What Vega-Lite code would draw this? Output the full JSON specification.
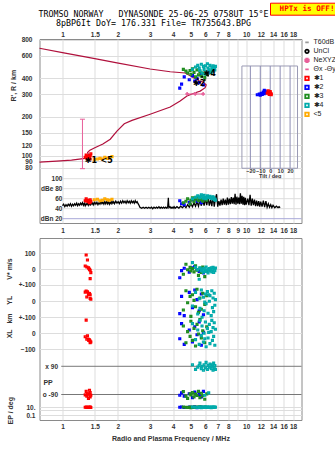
{
"$schema": "https://vega.github.io/schema/vega-lite/v6.json",
"background": "white",
"padding": {"left": 4.5, "top": 2, "right": 0, "bottom": 0},
"config": {
 "view": {"stroke": "#8a8a8a"},
 "axis": {"labelFont": "Liberation Sans", "labelFontSize": 6.5, "labelFontWeight": "bold", "labelColor": "#333333", "titleFont": "Liberation Sans", "titleFontSize": 7, "titleFontWeight": "bold", "titleColor": "#333333", "gridColor": "#dddddd", "domain": false, "ticks": false, "tickSize": 0, "labelOverlap": false, "labelFlush": false, "labelBound": false},
 "legend": {"labelFont": "Liberation Sans"}
},
"datasets": {
 "echo": [
  {"f":1.346,"t":"✱1","h":101,"db":60,"v":88,"yl":64,"xl":82,"pp":-70,"ep":10},
  {"f":1.368,"t":"✱1","h":99,"db":57,"v":57,"yl":59,"xl":-17,"pp":-85,"ep":9},
  {"f":1.33,"t":"✱1","h":97,"db":56,"v":19,"yl":57,"xl":-22,"pp":-92,"ep":10},
  {"f":1.357,"t":"✱1","h":96,"db":55,"v":13,"yl":26,"xl":-38,"pp":-100,"ep":11},
  {"f":1.385,"t":"✱1","h":95,"db":54,"v":8,"yl":43,"xl":-38,"pp":-115,"ep":9},
  {"f":1.403,"t":"✱1","h":98,"db":52,"v":-2,"yl":47,"xl":-42,"pp":-63,"ep":10},
  {"f":1.415,"t":"✱1","h":100,"db":53,"v":-8,"yl":18,"xl":-49,"pp":-78,"ep":12},
  {"f":1.427,"t":"✱1","h":103,"db":55,"v":-23,"yl":12,"xl":-55,"pp":-95,"ep":9},
  {"f":1.415,"t":"✱1","h":94,"db":58,"v":-61,"yl":40,"xl":-59,"pp":-105,"ep":10},
  {"f":1.39,"t":"✱1","h":96,"db":56,"v":5,"yl":50,"xl":-45,"pp":-88,"ep":10},
  {"f":1.49,"t":"<5","h":93,"db":58},
  {"f":1.55,"t":"<5","h":94,"db":59},
  {"f":1.6,"t":"<5","h":95,"db":56},
  {"f":1.65,"t":"<5","h":94,"db":57},
  {"f":1.7,"t":"<5","h":97,"db":60},
  {"f":1.75,"t":"<5","h":95,"db":58},
  {"f":1.8,"t":"<5","h":96,"db":57},
  {"f":1.86,"t":"<5","h":98,"db":59},
  {"f":4.35,"t":"✱2","h":335,"db":56,"v":-55,"yl":-78,"xl":-35,"pp":-95,"ep":10},
  {"f":4.45,"t":"✱2","h":360,"db":50,"v":-10,"yl":30,"xl":60,"pp":-80,"ep":12},
  {"f":4.6,"t":"✱2","h":410,"db":48,"v":5,"yl":-90,"xl":-70,"pp":-100,"ep":9},
  {"f":4.9,"t":"✱2","h":390,"db":53,"v":-20,"yl":55,"xl":20,"pp":-85,"ep":11},
  {"f":5.1,"t":"✱2","h":420,"db":58,"v":8,"yl":-40,"xl":-55,"pp":-110,"ep":10},
  {"f":5.25,"t":"✱2","h":380,"db":60,"v":15,"yl":70,"xl":40,"pp":-75,"ep":13},
  {"f":5.4,"t":"✱2","h":400,"db":55,"v":-5,"yl":10,"xl":-10,"pp":-95,"ep":8},
  {"f":5.55,"t":"✱2","h":370,"db":57,"v":-15,"yl":-60,"xl":70,"pp":-90,"ep":10},
  {"f":5.7,"t":"✱2","h":430,"db":52,"v":0,"yl":45,"xl":-75,"pp":-105,"ep":11},
  {"f":5.85,"t":"✱2","h":355,"db":59,"v":-25,"yl":-85,"xl":5,"pp":-70,"ep":9},
  {"f":4.55,"t":"✱3","h":470,"db":52,"v":-33,"yl":-55,"xl":45,"pp":-72,"ep":12},
  {"f":4.7,"t":"✱3","h":455,"db":55,"v":30,"yl":65,"xl":-60,"pp":-100,"ep":10},
  {"f":4.8,"t":"✱3","h":440,"db":60,"v":-5,"yl":-10,"xl":10,"pp":-115,"ep":9},
  {"f":4.95,"t":"✱3","h":460,"db":50,"v":10,"yl":30,"xl":-20,"pp":-85,"ep":11},
  {"f":5.0,"t":"✱3","h":430,"db":57,"v":-12,"yl":-95,"xl":75,"pp":-92,"ep":8},
  {"f":5.1,"t":"✱3","h":475,"db":62,"v":2,"yl":40,"xl":-45,"pp":-78,"ep":10},
  {"f":5.2,"t":"✱3","h":445,"db":54,"v":-18,"yl":5,"xl":30,"pp":-105,"ep":12},
  {"f":5.3,"t":"✱3","h":410,"db":59,"v":20,"yl":-35,"xl":-80,"pp":-88,"ep":9},
  {"f":5.4,"t":"✱3","h":465,"db":63,"v":-8,"yl":75,"xl":55,"pp":-96,"ep":11},
  {"f":5.5,"t":"✱3","h":425,"db":56,"v":-40,"yl":-70,"xl":-5,"pp":-70,"ep":10},
  {"f":5.6,"t":"✱3","h":450,"db":61,"v":5,"yl":20,"xl":85,"pp":-110,"ep":13},
  {"f":5.7,"t":"✱3","h":415,"db":58,"v":-22,"yl":-50,"xl":-30,"pp":-82,"ep":10},
  {"f":5.8,"t":"✱3","h":440,"db":55,"v":12,"yl":50,"xl":15,"pp":-98,"ep":9},
  {"f":5.95,"t":"✱3","h":405,"db":60,"v":-48,"yl":-20,"xl":-60,"pp":-120,"ep":11},
  {"f":6.1,"t":"✱3","h":430,"db":57,"v":-15,"yl":35,"xl":40,"pp":-86,"ep":10},
  {"f":5.1,"t":"✱4","h":470,"db":60,"v":40,"yl":-30,"xl":60,"pp":100,"ep":12},
  {"f":5.3,"t":"✱4","h":490,"db":63,"v":10,"yl":55,"xl":-40,"pp":70,"ep":10},
  {"f":5.45,"t":"✱4","h":505,"db":66,"v":-5,"yl":-80,"xl":20,"pp":85,"ep":9},
  {"f":5.55,"t":"✱4","h":480,"db":64,"v":-65,"yl":15,"xl":-70,"pp":95,"ep":11},
  {"f":5.6,"t":"✱4","h":460,"db":62,"v":8,"yl":-45,"xl":80,"pp":110,"ep":10},
  {"f":5.7,"t":"✱4","h":515,"db":68,"v":-10,"yl":70,"xl":-15,"pp":75,"ep":8},
  {"f":5.75,"t":"✱4","h":440,"db":65,"v":0,"yl":-100,"xl":45,"pp":90,"ep":12},
  {"f":5.85,"t":"✱4","h":495,"db":61,"v":-20,"yl":25,"xl":-55,"pp":65,"ep":10},
  {"f":5.9,"t":"✱4","h":470,"db":67,"v":5,"yl":-60,"xl":0,"pp":100,"ep":9},
  {"f":6.0,"t":"✱4","h":500,"db":63,"v":-15,"yl":45,"xl":70,"pp":80,"ep":11},
  {"f":6.05,"t":"✱4","h":450,"db":60,"v":12,"yl":-15,"xl":-85,"pp":115,"ep":10},
  {"f":6.15,"t":"✱4","h":520,"db":66,"v":-8,"yl":60,"xl":30,"pp":70,"ep":12},
  {"f":6.2,"t":"✱4","h":480,"db":64,"v":-25,"yl":-75,"xl":-30,"pp":95,"ep":9},
  {"f":6.3,"t":"✱4","h":465,"db":62,"v":3,"yl":0,"xl":55,"pp":85,"ep":11},
  {"f":6.35,"t":"✱4","h":505,"db":65,"v":-12,"yl":35,"xl":-65,"pp":105,"ep":10},
  {"f":6.45,"t":"✱4","h":445,"db":61,"v":7,"yl":-90,"xl":10,"pp":75,"ep":8},
  {"f":6.5,"t":"✱4","h":490,"db":63,"v":-18,"yl":65,"xl":80,"pp":90,"ep":12},
  {"f":6.55,"t":"✱4","h":470,"db":60,"v":-3,"yl":-40,"xl":-45,"pp":100,"ep":10},
  {"f":6.6,"t":"✱4","h":500,"db":64,"v":10,"yl":20,"xl":35,"pp":65,"ep":11},
  {"f":6.65,"t":"✱4","h":455,"db":62,"v":-22,"yl":-65,"xl":-20,"pp":110,"ep":9},
  {"f":6.7,"t":"✱4","h":480,"db":58,"v":2,"yl":50,"xl":65,"pp":80,"ep":10},
  {"f":6.75,"t":"✱4","h":465,"db":60,"v":-10,"yl":-25,"xl":-75,"pp":95,"ep":12},
  {"f":6.8,"t":"✱4","h":495,"db":57,"v":6,"yl":10,"xl":25,"pp":70,"ep":10},
  {"f":5.95,"t":"✱4","h":430,"db":62,"v":-6,"yl":-5,"xl":-35,"pp":-95,"ep":11},
  {"f":6.25,"t":"✱4","h":445,"db":63,"v":-2,"yl":40,"xl":5,"pp":-80,"ep":10}
 ],
 "curve": [
  {"i":0,"f":0.75,"h":89},{"i":1,"f":0.93,"h":90.5},{"i":2,"f":1.12,"h":92},{"i":3,"f":1.33,"h":95},
  {"i":4,"f":1.4,"h":97.5},{"i":5,"f":1.37,"h":106},{"i":6,"f":1.41,"h":110},{"i":7,"f":1.5,"h":115},
  {"i":8,"f":1.66,"h":123},{"i":9,"f":1.82,"h":134},{"i":10,"f":1.98,"h":155},{"i":11,"f":2.17,"h":177},
  {"i":12,"f":2.39,"h":188},{"i":13,"f":3.0,"h":210},{"i":14,"f":3.86,"h":239},{"i":15,"f":4.37,"h":266},
  {"i":16,"f":4.76,"h":291},{"i":17,"f":5.28,"h":309},{"i":18,"f":5.62,"h":318},{"i":19,"f":5.98,"h":338},
  {"i":20,"f":6.06,"h":355},{"i":21,"f":5.83,"h":374},{"i":22,"f":5.57,"h":381},{"i":23,"f":5.17,"h":404},
  {"i":24,"f":4.66,"h":440},{"i":25,"f":3.86,"h":450},{"i":26,"f":3.0,"h":473},{"i":27,"f":1.98,"h":527},
  {"i":28,"f":1.5,"h":570},{"i":29,"f":1.0,"h":634},{"i":30,"f":0.75,"h":686}
 ],
 "noise": [
  {"f":1.0,"db":46},{"f":1.015,"db":49},{"f":1.03,"db":44},{"f":1.045,"db":48},{"f":1.06,"db":45},{"f":1.075,"db":49},
  {"f":1.09,"db":46},{"f":1.105,"db":50},{"f":1.12,"db":45},{"f":1.135,"db":49},{"f":1.15,"db":46},{"f":1.165,"db":50},
  {"f":1.18,"db":47},{"f":1.195,"db":51},{"f":1.21,"db":46},{"f":1.225,"db":50},{"f":1.24,"db":47},{"f":1.255,"db":51},
  {"f":1.27,"db":48},{"f":1.285,"db":52},{"f":1.3,"db":47},{"f":1.315,"db":51},{"f":1.33,"db":46},{"f":1.345,"db":50},
  {"f":1.36,"db":48},{"f":1.375,"db":52},{"f":1.39,"db":47},{"f":1.405,"db":51},{"f":1.42,"db":48},{"f":1.435,"db":53},
  {"f":1.45,"db":49},{"f":1.465,"db":52},{"f":1.48,"db":48},{"f":1.5,"db":53},{"f":1.52,"db":49},{"f":1.54,"db":53},
  {"f":1.56,"db":48},{"f":1.58,"db":52},{"f":1.6,"db":49},{"f":1.62,"db":54},{"f":1.64,"db":50},{"f":1.66,"db":53},
  {"f":1.68,"db":49},{"f":1.7,"db":54},{"f":1.72,"db":50},{"f":1.74,"db":55},{"f":1.76,"db":50},{"f":1.78,"db":54},
  {"f":1.8,"db":49},{"f":1.82,"db":53},{"f":1.84,"db":50},{"f":1.86,"db":55},{"f":1.88,"db":51},{"f":1.9,"db":54},
  {"f":1.92,"db":50},{"f":1.95,"db":55},{"f":1.98,"db":51},{"f":2.01,"db":54},{"f":2.04,"db":50},{"f":2.07,"db":55},
  {"f":2.1,"db":51},{"f":2.13,"db":56},{"f":2.16,"db":52},{"f":2.19,"db":55},{"f":2.22,"db":51},{"f":2.25,"db":56},
  {"f":2.28,"db":52},{"f":2.31,"db":55},{"f":2.34,"db":51},{"f":2.37,"db":56},{"f":2.4,"db":52},{"f":2.43,"db":55},
  {"f":2.46,"db":51},{"f":2.49,"db":56},{"f":2.52,"db":52},{"f":2.55,"db":54},{"f":2.58,"db":50},{"f":2.61,"db":47},
  {"f":2.64,"db":43},{"f":2.7,"db":41},{"f":2.75,"db":43},{"f":2.8,"db":41},{"f":2.85,"db":43},{"f":2.9,"db":41},
  {"f":2.95,"db":43},{"f":3.0,"db":41},{"f":3.05,"db":43},{"f":3.1,"db":40},{"f":3.15,"db":43},{"f":3.2,"db":41},
  {"f":3.25,"db":43},{"f":3.3,"db":41},{"f":3.35,"db":44},{"f":3.4,"db":41},{"f":3.45,"db":43},{"f":3.5,"db":41},
  {"f":3.55,"db":43},{"f":3.6,"db":41},{"f":3.65,"db":43},{"f":3.7,"db":41},{"f":3.74,"db":44},{"f":3.76,"db":55},
  {"f":3.77,"db":62},{"f":3.78,"db":52},{"f":3.8,"db":42},{"f":3.85,"db":44},{"f":3.9,"db":41},{"f":3.95,"db":43},
  {"f":4.0,"db":41},{"f":4.05,"db":44},{"f":4.1,"db":41},{"f":4.2,"db":44},{"f":4.3,"db":41},{"f":4.4,"db":45},
  {"f":4.5,"db":42},{"f":4.6,"db":46},{"f":4.7,"db":42},{"f":4.8,"db":48},{"f":4.9,"db":43},{"f":5.0,"db":50},
  {"f":5.1,"db":44},{"f":5.2,"db":52},{"f":5.3,"db":45},{"f":5.4,"db":54},{"f":5.5,"db":45},{"f":5.6,"db":56},
  {"f":5.7,"db":46},{"f":5.8,"db":58},{"f":5.9,"db":46},{"f":6.0,"db":60},{"f":6.1,"db":47},{"f":6.2,"db":62},
  {"f":6.3,"db":46},{"f":6.4,"db":58},{"f":6.5,"db":45},{"f":6.6,"db":66},{"f":6.7,"db":44},{"f":6.8,"db":60},
  {"f":6.9,"db":69},{"f":7.0,"db":44},{"f":7.1,"db":55},{"f":7.2,"db":46},{"f":7.3,"db":58},{"f":7.4,"db":47},
  {"f":7.5,"db":60},{"f":7.6,"db":48},{"f":7.7,"db":58},{"f":7.8,"db":47},{"f":7.9,"db":62},{"f":8.0,"db":48},
  {"f":8.1,"db":60},{"f":8.2,"db":49},{"f":8.3,"db":63},{"f":8.4,"db":50},{"f":8.5,"db":62},{"f":8.6,"db":49},
  {"f":8.7,"db":70},{"f":8.8,"db":48},{"f":8.9,"db":64},{"f":9.0,"db":50},{"f":9.1,"db":62},{"f":9.2,"db":49},
  {"f":9.3,"db":71},{"f":9.4,"db":50},{"f":9.5,"db":66},{"f":9.6,"db":48},{"f":9.7,"db":64},{"f":9.8,"db":47},
  {"f":9.9,"db":62},{"f":10.0,"db":48},{"f":10.2,"db":60},{"f":10.35,"db":47},{"f":10.5,"db":68},{"f":10.65,"db":46},
  {"f":10.8,"db":60},{"f":10.95,"db":47},{"f":11.1,"db":58},{"f":11.25,"db":45},{"f":11.4,"db":56},{"f":11.55,"db":45},
  {"f":11.7,"db":55},{"f":11.85,"db":44},{"f":12.0,"db":54},{"f":12.2,"db":44},{"f":12.4,"db":56},{"f":12.6,"db":43},
  {"f":12.8,"db":55},{"f":13.0,"db":43},{"f":13.2,"db":50},{"f":13.4,"db":43},{"f":13.6,"db":48},{"f":13.8,"db":42},
  {"f":14.0,"db":47},{"f":14.3,"db":42},{"f":14.6,"db":45},{"f":14.9,"db":42},{"f":15.1,"db":44},{"f":15.3,"db":42}
 ],
 "tilt": [
  {"tx":-13,"h":298,"t":"✱2"},{"tx":-11,"h":302,"t":"✱2"},{"tx":-10,"h":296,"t":"✱2"},{"tx":-9,"h":306,"t":"✱2"},
  {"tx":-8,"h":300,"t":"✱2"},{"tx":-7,"h":312,"t":"✱2"},{"tx":-6,"h":304,"t":"✱2"},{"tx":-5,"h":318,"t":"✱2"},
  {"tx":-4,"h":309,"t":"✱2"},{"tx":-6,"h":322,"t":"✱2"},
  {"tx":-3,"h":306,"t":"✱1"},{"tx":-2,"h":312,"t":"✱1"},{"tx":-1,"h":300,"t":"✱1"},{"tx":0,"h":308,"t":"✱1"},
  {"tx":1,"h":303,"t":"✱1"},{"tx":-2,"h":320,"t":"✱1"},{"tx":0,"h":316,"t":"✱1"},{"tx":1,"h":298,"t":"✱1"}
 ],
 "lbl": [
  {"f":1.43,"h":90,"s":"✱1"},{"f":1.74,"h":90,"s":"<5"},{"f":5.55,"h":358,"s":"✱2"},{"f":6.33,"h":436,"s":"✱4"}
 ],
 "unc": [
  {"f":5.45,"h":395},{"f":5.6,"h":372},{"f":5.75,"h":410},{"f":5.95,"h":388},{"f":6.2,"h":420},{"f":5.3,"h":378}
 ],
 "nexyz": [
  {"f":4.77,"h":302},{"f":5.28,"h":302},{"f":5.83,"h":302}
 ],
 "err": [
  {"f":1.285,"lo":79,"hi":192}
 ],
 "errcap": [
  {"f":1.285,"h":79},{"f":1.285,"h":192}
 ]
},
"spacing": 15,
"bounds": "flush",
"vconcat": [
 {
  "width": 262, "height": 184,
  "title": {"text": "TROMSO NORWAY\u00a0\u00a0 DYNASONDE 25-06-25 0758UT 15°E\u00a0\u00a0\u00a0", "subtitle": "8pBP6It DoY= 176.331 File= TR735643.BPG", "font": "DejaVu Sans Mono", "fontSize": 8.3, "fontWeight": "normal", "color": "#000000", "subtitleFont": "DejaVu Sans Mono", "subtitleFontSize": 8.3, "subtitleColor": "#000000", "subtitlePadding": 0.3, "anchor": "middle", "frame": "group", "offset": 4, "dx": -17},
  "resolve": {"scale": {"x": "independent", "y": "independent"}},
  "layer": [
   {"data": {"name": "curve"}, "mark": {"type": "line", "color": "#b0103c", "strokeWidth": 1.2},
    "encoding": {
     "x": {"field": "f", "type": "quantitative", "scale": {"type": "log", "domain": [0.75, 20], "nice": false},
      "axis": {"orient": "top", "values": [1,1.5,2,3,4,5,6,7,8,9,10,12,14,16,18], "format": "~g", "labelExpr": "datum.value == 9 ? '' : datum.label", "grid": true, "labelPadding": 2, "title": null}},
     "y": {"field": "h", "type": "quantitative", "scale": {"type": "log", "domain": [29.8, 810], "nice": false},
      "axis": {"orient": "left", "values": [80,90,100,120,150,200,300,400,600,800], "grid": true, "labelPadding": 7.5, "title": "R', R / km", "titleX": -23.3, "titleY": 46.2}},
     "order": {"field": "i", "type": "quantitative"}}},
   {"data": {"name": "err"}, "mark": {"type": "rule", "color": "#e8609a"},
    "encoding": {
     "x": {"field": "f", "type": "quantitative", "scale": {"type": "log", "domain": [0.75, 20], "nice": false}, "axis": null},
     "y": {"field": "lo", "type": "quantitative", "scale": {"type": "log", "domain": [29.8, 810], "nice": false}, "axis": null},
     "y2": {"field": "hi"}}},
   {"data": {"name": "errcap"}, "mark": {"type": "point", "shape": "stroke", "size": 25, "filled": false, "color": "#e8609a", "strokeWidth": 1, "opacity": 1},
    "encoding": {
     "x": {"field": "f", "type": "quantitative", "scale": {"type": "log", "domain": [0.75, 20], "nice": false}, "axis": null},
     "y": {"field": "h", "type": "quantitative", "scale": {"type": "log", "domain": [29.8, 810], "nice": false}, "axis": null}}},
   {"data": {"name": "nexyz"}, "mark": {"type": "line", "color": "#e8609a", "strokeWidth": 1},
    "encoding": {
     "x": {"field": "f", "type": "quantitative", "scale": {"type": "log", "domain": [0.75, 20], "nice": false}, "axis": null},
     "y": {"field": "h", "type": "quantitative", "scale": {"type": "log", "domain": [29.8, 810], "nice": false}, "axis": null}}},
   {"data": {"name": "nexyz"}, "mark": {"type": "point", "shape": "cross", "size": 14, "filled": true, "color": "#e8609a", "opacity": 1},
    "encoding": {
     "x": {"field": "f", "type": "quantitative", "scale": {"type": "log", "domain": [0.75, 20], "nice": false}, "axis": null},
     "y": {"field": "h", "type": "quantitative", "scale": {"type": "log", "domain": [29.8, 810], "nice": false}, "axis": null}}},
   {"data": {"name": "echo"}, "mark": {"type": "point", "filled": false, "size": 3, "strokeWidth": 1.4, "opacity": 1},
    "encoding": {
     "x": {"field": "f", "type": "quantitative", "scale": {"type": "log", "domain": [0.75, 20], "nice": false}, "axis": null},
     "y": {"field": "h", "type": "quantitative", "scale": {"type": "log", "domain": [29.8, 810], "nice": false}, "axis": null},
     "color": {"field": "t", "type": "nominal", "scale": {"domain": ["T60dB","UnCl","NeXYZ","Θx -Θy","✱1","✱2","✱3","✱4","<5"], "range": ["#999999","#000000","#e8609a","#e8609a","#ff0000","#0000ff","#1e8c1e","#00aaaa","#ffaa00"]},
      "legend": {"title": null, "orient": "none", "legendX": 264, "legendY": -0.8, "labelFontSize": 7, "symbolSize": 12, "symbolStrokeWidth": 1.8, "rowPadding": 0, "clipHeight": 8.3, "labelOffset": 3, "padding": 0, "labelColor": "#222222"}},
     "shape": {"field": "t", "type": "nominal", "scale": {"domain": ["T60dB","UnCl","NeXYZ","Θx -Θy","✱1","✱2","✱3","✱4","<5"], "range": ["stroke","circle","cross","stroke","square","square","square","square","square"]},
      "legend": {"title": null, "orient": "none", "legendX": 264, "legendY": -0.8, "labelFontSize": 7, "symbolSize": 12, "symbolStrokeWidth": 1.8, "rowPadding": 0, "clipHeight": 8.3, "labelOffset": 3, "padding": 0, "labelColor": "#222222"}}}},
   {"data": {"name": "unc"}, "mark": {"type": "square", "size": 3, "color": "#000000", "opacity": 1},
    "encoding": {
     "x": {"field": "f", "type": "quantitative", "scale": {"type": "log", "domain": [0.75, 20], "nice": false}, "axis": null},
     "y": {"field": "h", "type": "quantitative", "scale": {"type": "log", "domain": [29.8, 810], "nice": false}, "axis": null}}},
   {"data": {"name": "lbl"}, "mark": {"type": "text", "font": "DejaVu Sans", "fontSize": 8, "fontWeight": "bold", "color": "#000000"},
    "encoding": {
     "x": {"field": "f", "type": "quantitative", "scale": {"type": "log", "domain": [0.75, 20], "nice": false}, "axis": null},
     "y": {"field": "h", "type": "quantitative", "scale": {"type": "log", "domain": [29.8, 810], "nice": false}, "axis": null},
     "text": {"field": "s", "type": "nominal"}}},
   {"data": {"values": [{"g":100},{"g":80},{"g":60},{"g":40}]}, "mark": {"type": "rule", "color": "#dddddd"},
    "encoding": {
     "x": {"datum": 1.0, "type": "quantitative", "scale": {"type": "log", "domain": [0.75, 20], "nice": false}, "axis": null},
     "x2": {"datum": 20},
     "y": {"field": "g", "type": "quantitative", "scale": {"type": "linear", "domain": [11.4, 379.4], "nice": false, "zero": false},
      "axis": {"orient": "left", "offset": -24.4, "values": [100,80,60,40,20], "labelExpr": "datum.value == 80 ? 'dBe 80' : datum.value == 20 ? 'dBn 20' : datum.label", "grid": false, "labelPadding": 2, "title": null}}}},
   {"data": {"values": [{"g":20}]}, "mark": {"type": "rule", "color": "#a8a8d8"},
    "encoding": {
     "x": {"datum": 1.0, "type": "quantitative", "scale": {"type": "log", "domain": [0.75, 20], "nice": false}, "axis": null},
     "x2": {"datum": 20},
     "y": {"field": "g", "type": "quantitative", "scale": {"type": "linear", "domain": [11.4, 379.4], "nice": false, "zero": false}, "axis": null}}},
   {"data": {"name": "noise"}, "mark": {"type": "line", "color": "#000000", "strokeWidth": 1.3},
    "encoding": {
     "x": {"field": "f", "type": "quantitative", "scale": {"type": "log", "domain": [0.75, 20], "nice": false},
      "axis": {"orient": "bottom", "values": [1,1.5,2,3,4,5,6,7,8,9,10,12,14,16,18], "format": "~g", "grid": false, "labelPadding": 4, "title": null}},
     "y": {"field": "db", "type": "quantitative", "scale": {"type": "linear", "domain": [11.4, 379.4], "nice": false, "zero": false}, "axis": null}}},
   {"data": {"name": "echo"}, "mark": {"type": "point", "filled": false, "size": 3, "strokeWidth": 1.4, "opacity": 1},
    "encoding": {
     "x": {"field": "f", "type": "quantitative", "scale": {"type": "log", "domain": [0.75, 20], "nice": false}, "axis": null},
     "y": {"field": "db", "type": "quantitative", "scale": {"type": "linear", "domain": [11.4, 379.4], "nice": false, "zero": false}, "axis": null},
     "color": {"field": "t", "type": "nominal"}, "shape": {"field": "t", "type": "nominal"}}},
   {"data": {"values": [{"a": -28.5, "b": 27.5, "lo": 79.6, "hi": 499}]}, "mark": {"type": "rect", "fill": "transparent", "stroke": "#9a9ab4", "strokeWidth": 1},
    "encoding": {
     "x": {"field": "a", "type": "quantitative", "scale": {"type": "linear", "domain": [-232.3, 31.5], "nice": false, "zero": false},
      "axis": {"orient": "bottom", "offset": -54.7, "values": [-20,-10,0,10,20], "labelFontSize": 5.5, "labelPadding": 0.5, "grid": false, "title": "Tilt / deg", "titleFontSize": 5.5, "titleFontWeight": "bold", "titleX": 230.2, "titleY": 7.5, "titleBaseline": "middle", "titleAlign": "center", "titlePadding": 0}},
     "x2": {"field": "b"},
     "y": {"field": "lo", "type": "quantitative", "scale": {"type": "log", "domain": [29.8, 810], "nice": false}, "axis": null},
     "y2": {"field": "hi"}}},
   {"data": {"values": [{"g":-20,"lo":79.6,"hi":499},{"g":-10,"lo":79.6,"hi":499},{"g":0,"lo":79.6,"hi":499},{"g":10,"lo":79.6,"hi":499},{"g":20,"lo":79.6,"hi":499}]}, "mark": {"type": "rule", "color": "#8c8cb4"},
    "encoding": {
     "x": {"field": "g", "type": "quantitative", "scale": {"type": "linear", "domain": [-232.3, 31.5], "nice": false, "zero": false}, "axis": null},
     "y": {"field": "lo", "type": "quantitative", "scale": {"type": "log", "domain": [29.8, 810], "nice": false}, "axis": null},
     "y2": {"field": "hi"}}},
   {"data": {"name": "tilt"}, "mark": {"type": "point", "filled": false, "size": 3, "strokeWidth": 1.4, "opacity": 1},
    "encoding": {
     "x": {"field": "tx", "type": "quantitative", "scale": {"type": "linear", "domain": [-232.3, 31.5], "nice": false, "zero": false}, "axis": null},
     "y": {"field": "h", "type": "quantitative", "scale": {"type": "log", "domain": [29.8, 810], "nice": false}, "axis": null},
     "color": {"field": "t", "type": "nominal"}, "shape": {"field": "t", "type": "nominal"}}}
  ]
 },
 {
  "width": 262, "height": 182,
  "data": {"name": "echo"},
  "encoding": {"x": {"field": "f", "type": "quantitative", "scale": {"type": "log", "domain": [0.75, 20], "nice": false},
    "axis": {"orient": "bottom", "values": [1,1.5,2,3,4,5,6,7,8,9,10,12,14,16,18], "format": "~g", "labelExpr": "datum.value == 9 ? '' : datum.label", "grid": true, "labelPadding": 3, "title": "Radio and Plasma Frequency / MHz", "titlePadding": 5}}},
  "resolve": {"scale": {"y": "independent"}},
  "layer": [
   {"mark": {"type": "point", "filled": false, "size": 3, "strokeWidth": 1.4, "opacity": 1},
    "encoding": {"y": {"field": "v", "type": "quantitative", "scale": {"domain": [-952.7, 195.6], "nice": false, "zero": false},
      "axis": {"orient": "left", "values": [100,0,-100], "labelExpr": "datum.value == -100 ? '+-100' : datum.label", "grid": true, "labelPadding": 4.5, "title": "V* m/s", "titleX": -26.6, "titleY": 30.5}},
     "color": {"field": "t", "type": "nominal"}, "shape": {"field": "t", "type": "nominal"}}},
   {"mark": {"type": "point", "filled": false, "size": 3, "strokeWidth": 1.4, "opacity": 1},
    "encoding": {"y": {"field": "yl", "type": "quantitative", "scale": {"domain": [-742.5, 395], "nice": false, "zero": false},
      "axis": {"orient": "left", "values": [0,-100], "labelExpr": "datum.value == -100 ? '+-100' : datum.label", "grid": true, "labelPadding": 4.5, "title": "YL", "titleX": -26.6, "titleY": 61.8}},
     "color": {"field": "t", "type": "nominal"}, "shape": {"field": "t", "type": "nominal"}}},
   {"mark": {"type": "point", "filled": false, "size": 3, "strokeWidth": 1.4, "opacity": 1},
    "encoding": {"y": {"field": "xl", "type": "quantitative", "scale": {"domain": [-542.5, 595], "nice": false, "zero": false},
      "axis": {"orient": "left", "values": [0,-100], "grid": true, "labelPadding": 4.5, "title": "XL\u00a0\u00a0\u00a0km", "titleX": -26.6, "titleY": 87.4}},
     "color": {"field": "t", "type": "nominal"}, "shape": {"field": "t", "type": "nominal"}}},
   {"data": {"values": [{"p": 90, "f": 0.985, "f2": 20}, {"p": -90, "f": 0.985, "f2": 20}]}, "mark": {"type": "rule", "color": "#777777", "strokeWidth": 1},
    "encoding": {"x2": {"field": "f2"},
     "y": {"field": "p", "type": "quantitative", "scale": {"domain": [-252.7, 908.7], "nice": false, "zero": false}, "axis": null}}},
   {"mark": {"type": "point", "filled": false, "size": 3, "strokeWidth": 1.4, "opacity": 1},
    "encoding": {"y": {"field": "pp", "type": "quantitative", "scale": {"domain": [-252.7, 908.7], "nice": false, "zero": false},
      "axis": {"orient": "left", "values": [90,-90], "labelExpr": "datum.value > 0 ? 'x 90' : 'o -90'", "offset": -20, "grid": false, "labelPadding": 2, "title": "PP", "titleAngle": 0, "titleX": -16.6, "titleY": 144, "titleAlign": "left", "titleBaseline": "middle"}},
     "color": {"field": "t", "type": "nominal"}, "shape": {"field": "t", "type": "nominal"}}},
   {"mark": {"type": "point", "filled": false, "size": 3, "strokeWidth": 1.4, "opacity": 1},
    "encoding": {"y": {"field": "ep", "type": "quantitative", "scale": {"type": "log", "domain": [0.00668, 2.11e43], "nice": false},
      "axis": {"orient": "left", "values": [10, 2.5, 0.1], "labelExpr": "datum.value == 10 ? '10.' : datum.value == 0.1 ? '0.1' : ''", "grid": true, "labelPadding": 4.5, "title": "EP / deg", "titleX": -26, "titleY": 172.2}},
     "color": {"field": "t", "type": "nominal"}, "shape": {"field": "t", "type": "nominal"}}},
   {"data": {"values": [{"n": "HPTx is OFF!", "f": 1}]}, "mark": {"type": "point", "opacity": 0},
    "encoding": {"fill": {"field": "n", "type": "nominal", "scale": {"domain": ["HPTx is OFF!"], "range": ["#ffff00"]},
      "legend": {"title": null, "orient": "none", "legendX": 230.5, "legendY": -36.3, "fillColor": "#ffff00", "strokeColor": "#ff0000", "padding": 2, "labelColor": "#ff0000", "labelFont": "DejaVu Sans Mono", "labelFontSize": 7.6, "labelFontWeight": "bold", "symbolSize": 0, "symbolStrokeWidth": 0, "symbolOpacity": 0, "labelOffset": 0, "cornerRadius": 0}}}}
  ]
 }
]
}
